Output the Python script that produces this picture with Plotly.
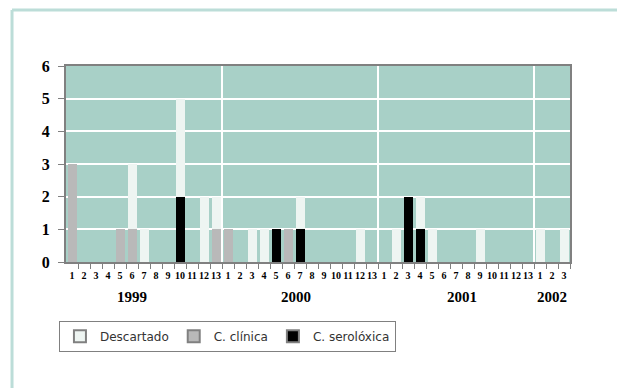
import plotly.graph_objects as go

# Periods (four-week periods) per year
years = ["1999", "2000", "2001", "2002"]
periods_per_year = [13, 13, 13, 3]

# Cases per period
descartado = [0, 0, 0, 0, 0, 2, 1, 0, 0, 3, 0, 2, 1,
              0, 0, 1, 1, 0, 0, 1, 0, 0, 0, 0, 1, 0,
              0, 1, 0, 1, 1, 0, 0, 0, 1, 0, 0, 0, 0,
              1, 0, 1]
c_clinica = [3, 0, 0, 0, 1, 1, 0, 0, 0, 0, 0, 0, 1,
             1, 0, 0, 0, 0, 1, 0, 0, 0, 0, 0, 0, 0,
             0, 0, 0, 0, 0, 0, 0, 0, 0, 0, 0, 0, 0,
             0, 0, 0]
c_serologica = [0, 0, 0, 0, 0, 0, 0, 0, 0, 2, 0, 0, 0,
                0, 0, 0, 0, 1, 0, 1, 0, 0, 0, 0, 0, 0,
                0, 0, 2, 1, 0, 0, 0, 0, 0, 0, 0, 0, 0,
                0, 0, 0]

period_labels = [str(p) for n in periods_per_year for p in range(1, n + 1)]
xi = list(range(len(period_labels)))

COL_DESC = "#EEF5F2"
COL_CLIN = "#B9B9B9"
COL_SERO = "#000000"
BG = "#A8D0C7"

fig = go.Figure()
# stacked bars: clinical at the bottom, serological next, discarded on top
for name, vals, col in [("C. clínica", c_clinica, COL_CLIN),
                        ("C. serolóxica", c_serologica, COL_SERO),
                        ("Descartado", descartado, COL_DESC)]:
    fig.add_trace(go.Bar(x=xi, y=vals, name=name, marker=dict(color=col, line=dict(width=0)),
                         showlegend=False, hoverinfo="x+y+name"))

# legend entries with outlined swatches
for name, col in [("Descartado", COL_DESC), ("C. clínica", COL_CLIN), ("C. serolóxica", COL_SERO)]:
    fig.add_trace(go.Bar(x=[None], y=[None], name=name,
                         marker=dict(color=col, line=dict(color="#808080", width=2))))

# white separators between years
shapes = []
start = 0
bounds = []
for n in periods_per_year[:-1]:
    start += n
    bounds.append(start - 0.5)
for b in bounds:
    shapes.append(dict(type="line", xref="x", yref="paper", x0=b, x1=b, y0=0, y1=1,
                       line=dict(color="white", width=2), layer="below"))

# outer frame (left and top)
shapes.append(dict(type="line", xref="paper", yref="paper", x0=-0.1071, x1=-0.1071,
                   y0=-0.7, y1=1.2857, line=dict(color="#BCDDD8", width=3)))
shapes.append(dict(type="line", xref="paper", yref="paper", x0=-0.1071, x1=1.2,
                   y0=1.2857, y1=1.2857, line=dict(color="#BCDDD8", width=3)))

# year labels under the period numbers
year_x = [5, 18.67, 32.5, 40]
annotations = [dict(x=x, y=-0.128, xref="x", yref="paper", yanchor="top", text=y,
                    showarrow=False,
                    font=dict(family="Liberation Serif", size=15, color="black", weight="bold"))
               for x, y in zip(year_x, years)]

fig.update_layout(
    width=617, height=388,
    margin=dict(l=66, r=47, t=66, b=126),
    paper_bgcolor="white", plot_bgcolor=BG,
    barmode="stack", bargap=0.25,
    shapes=shapes, annotations=annotations,
    legend=dict(orientation="h", x=-0.014, y=-0.30, xanchor="left", yanchor="top",
                bordercolor="#808080", borderwidth=1, bgcolor="white",
                font=dict(family="DejaVu Sans", size=12, color="#333333"),
                traceorder="normal"),
    xaxis=dict(range=[-0.5, len(xi) - 0.5], tickmode="array", tickvals=xi, ticktext=period_labels,
               tickangle=0,
               ticks="outside", ticklen=3, tickcolor="rgba(0,0,0,0)",
               minor=dict(tickvals=[i + 0.5 for i in xi], ticks="outside", ticklen=5,
                          tickcolor="#808080", tickwidth=1, showgrid=False),
               tickfont=dict(family="Liberation Serif", size=10, color="black", weight="bold"),
               showgrid=False, zeroline=False, showline=True, linecolor="#808080",
               linewidth=2, mirror=True, fixedrange=True),
    yaxis=dict(range=[0, 6], tickmode="linear", tick0=0, dtick=1,
               ticks="outside", ticklen=6, tickcolor="#808080", ticklabelstandoff=5,
               tickfont=dict(family="Liberation Serif", size=16, color="black", weight="bold"),
               showgrid=True, gridcolor="white", gridwidth=2, zeroline=False,
               showline=True, linecolor="#808080", linewidth=2, mirror=True, fixedrange=True),
)

fig.write_html("out.html")
